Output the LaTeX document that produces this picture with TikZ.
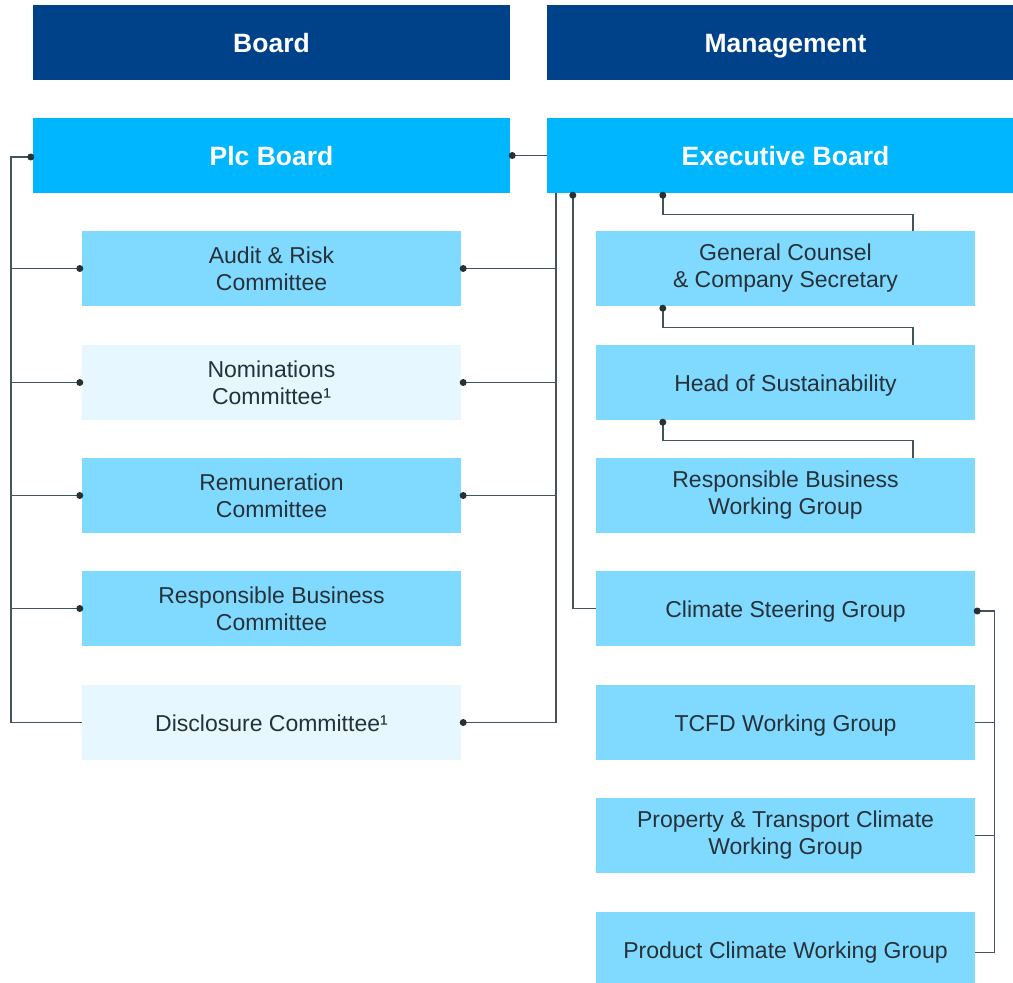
\documentclass[tikz,border=0pt]{standalone}
\usepackage{fontspec}
\setmainfont{Liberation Sans}
\definecolor{hdrblue}{HTML}{00428A}
\definecolor{brightblue}{HTML}{00B7FF}
\definecolor{lightblue}{HTML}{80D9FF}
\definecolor{paleblue}{HTML}{E6F7FF}
\definecolor{txtc}{HTML}{263238}
\definecolor{linec}{HTML}{44535C}
\definecolor{dotc}{HTML}{263238}
\begin{document}
\begin{tikzpicture}[x=1pt,y=-1pt,
  hdr/.style={fill=hdrblue,text=white,inner sep=0pt,minimum height=75pt,minimum width=477pt,
    text height=21.2pt,text depth=0pt,
    font=\bfseries\fontsize{26.5}{30}\selectfont},
  topbox/.style={hdr,fill=brightblue,text height=20.6pt},
  combox/.style={fill=lightblue,text=txtc,inner sep=0pt,minimum width=379pt,minimum height=75pt,
    align=center,font=\fontsize{23}{27}\selectfont},
  onebox/.style={combox,text height=17.4pt,text depth=0pt},
  palebox/.style={fill=paleblue},
  conn/.style={draw=linec,line width=1.4pt},
  dot/.style={fill=dotc},
]
\useasboundingbox (0,0) rectangle (1013,983);
% headers
\node[hdr] (board) at (271.5,42) {Board};
\node[hdr] (mgmt) at (785.5,42) {Management};
\node[topbox] (plc) at (271.5,155.5) {Plc Board};
\node[topbox] (exec) at (785.5,155.5) {Executive Board};
% left committees
\node[combox] (audit) at (271.5,268.5) {Audit \& Risk\\Committee};
\node[combox,palebox] (nom) at (271.5,382.5) {Nominations\\Committee¹};
\node[combox] (rem) at (271.5,495.5) {Remuneration\\Committee};
\node[combox] (rbc) at (271.5,608.5) {Responsible Business\\Committee};
\node[onebox,palebox] (disc) at (271.5,722.5) {Disclosure Committee¹};
% right boxes
\node[combox] (gc) at (785.5,268.5) {General Counsel\\\& Company Secretary};
\node[onebox] (hos) at (785.5,382.5) {Head of Sustainability};
\node[combox] (rbwg) at (785.5,495.5) {Responsible Business\\Working Group};
\node[onebox] (csg) at (785.5,608.5) {Climate Steering Group};
\node[onebox] (tcfd) at (785.5,722.5) {TCFD Working Group};
\node[combox] (ptc) at (785.5,835.5) {Property \& Transport Climate\\Working Group};
\node[onebox] (pcw) at (785.5,949.5) {Product Climate Working Group};
% left bus
\coordinate (lb) at (11,157);
\draw[conn] ([yshift=-1.5]plc.west) -- (lb) |- (disc.west);
\foreach \n in {audit,nom,rem,rbc}{
  \draw[conn] (lb |- \n.west) -- (\n.west);
  \fill[dot] ([xshift=-2]\n.west) circle [radius=3.5pt];
}
\fill[dot] ([xshift=-2,yshift=-1.5]plc.west) circle [radius=3.5pt];
% plc to exec
\draw[conn] (plc.east) -- (exec.west);
\fill[dot] ([xshift=2]plc.east) circle [radius=3.5pt];
% board committees right bus
\coordinate (rb) at ([xshift=9]exec.south west);
\draw[conn] (rb) |- (disc.east);
\foreach \n in {audit,nom,rem}{
  \draw[conn] (rb |- \n.east) -- (\n.east);
  \fill[dot] ([xshift=2]\n.east) circle [radius=3.5pt];
}
\fill[dot] ([xshift=2]disc.east) circle [radius=3.5pt];
% exec to climate steering group
\draw[conn] ([xshift=26]exec.south west) |- (csg.west);
\fill[dot] ([xshift=26,yshift=-2]exec.south west) circle [radius=3.5pt];
% chain
\draw[conn] ([xshift=116]exec.south west) -- ++(0,21) -| ([xshift=317]gc.north west);
\fill[dot] ([xshift=116,yshift=-2]exec.south west) circle [radius=3.5pt];
\draw[conn] ([xshift=67]gc.south west) -- ++(0,21) -| ([xshift=317]hos.north west);
\fill[dot] ([xshift=67,yshift=-2]gc.south west) circle [radius=3.5pt];
\draw[conn] ([xshift=67]hos.south west) -- ++(0,20) -| ([xshift=317]rbwg.north west);
\fill[dot] ([xshift=67,yshift=-2]hos.south west) circle [radius=3.5pt];
% climate working groups bus
\coordinate (cb) at ([xshift=19]csg.east);
\draw[conn] ([yshift=-2.5]csg.east) -- ([yshift=-2.5]cb) |- ([yshift=-3]pcw.east);
\foreach \n in {tcfd,ptc}{
  \draw[conn] (cb |- \n.east) -- (\n.east);
}
\fill[dot] ([xshift=2,yshift=-2.5]csg.east) circle [radius=3.5pt];
\end{tikzpicture}
\end{document}
